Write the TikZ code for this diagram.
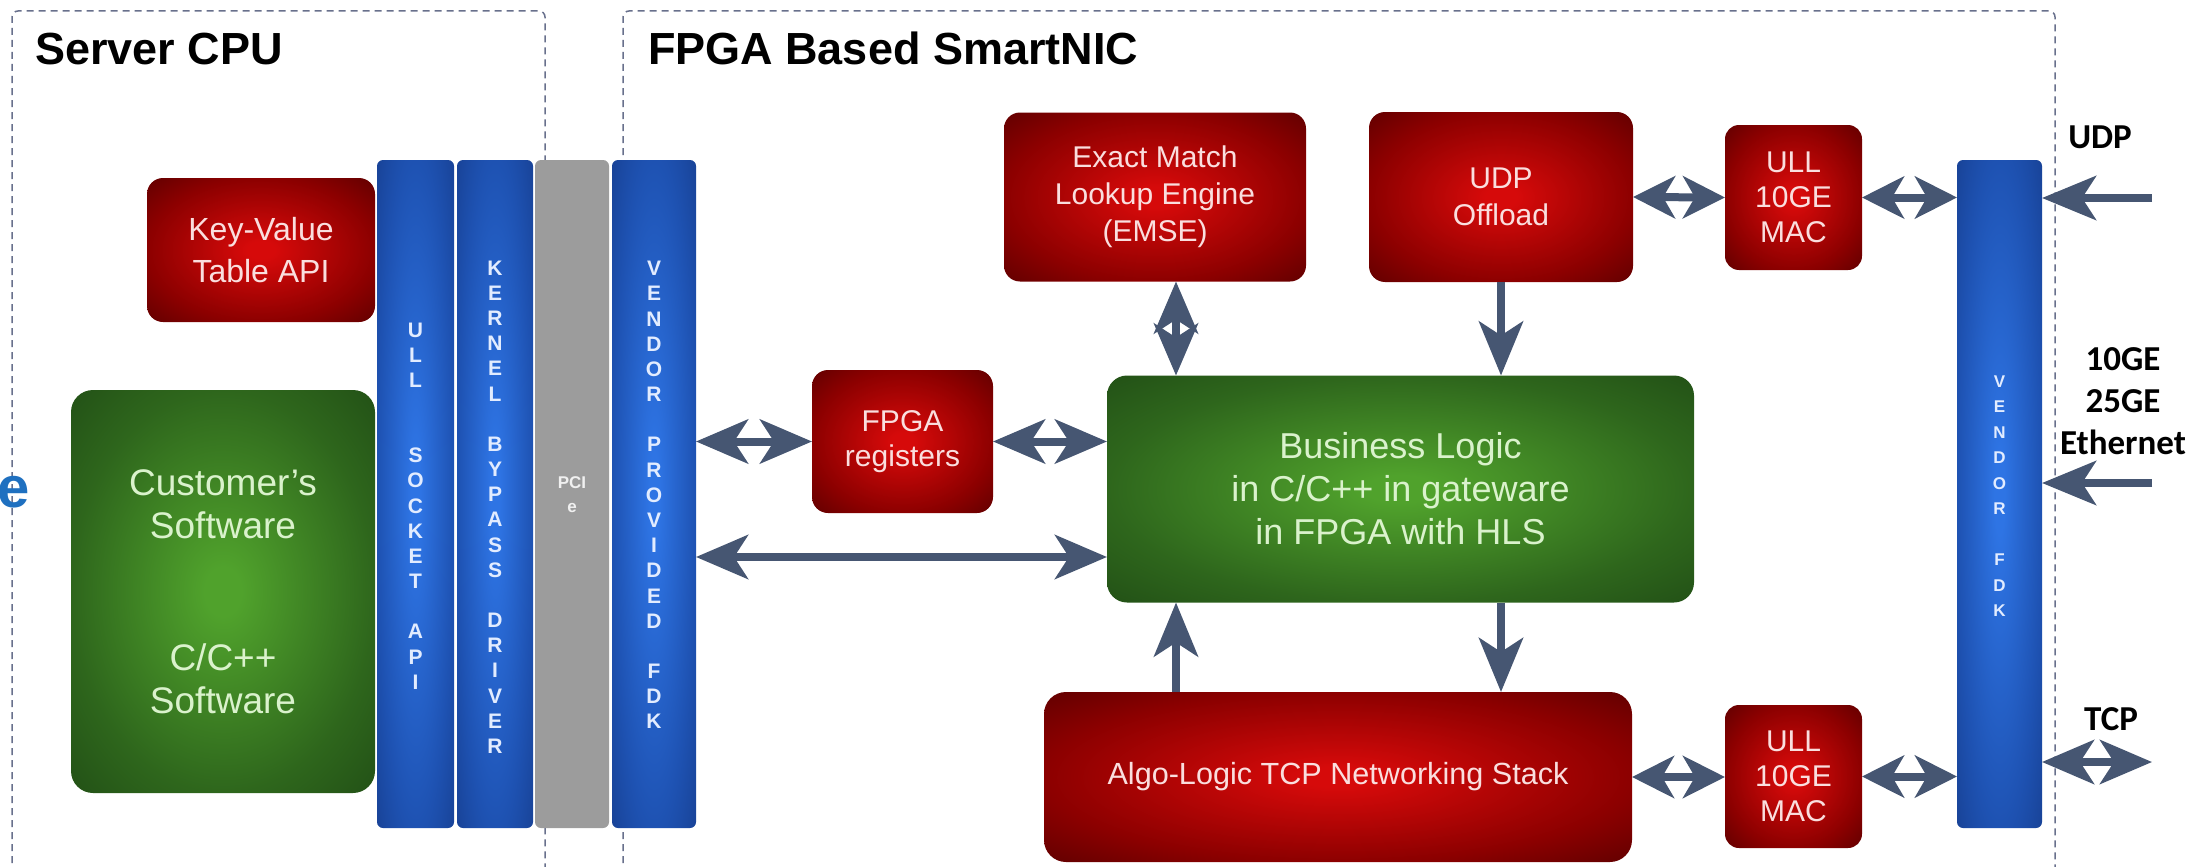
\documentclass[tikz,border=0pt]{standalone}
\usepackage{fontspec}
\setmainfont{Liberation Sans}
\newfontfamily\calib{Carlito}
\usetikzlibrary{arrows.meta,calc}
\definecolor{rin}{RGB}{214,10,10}
\definecolor{redge}{RGB}{140,0,0}
\definecolor{rcorner}{RGB}{96,0,0}
\definecolor{gin}{RGB}{80,162,44}
\definecolor{gedge}{RGB}{46,102,28}
\definecolor{gcorner}{RGB}{34,80,22}
\definecolor{bin}{RGB}{46,116,228}
\definecolor{bedge}{RGB}{30,82,178}
\definecolor{bcorner}{RGB}{24,66,150}
\definecolor{rtext}{RGB}{250,222,222}
\definecolor{gtext}{RGB}{218,242,204}
\definecolor{btext}{RGB}{226,236,255}
\definecolor{arrowc}{RGB}{70,86,114}
\definecolor{dashc}{RGB}{104,112,140}
\definecolor{pcigray}{RGB}{156,156,156}
\definecolor{ecol}{RGB}{31,112,192}
\pgfdeclareradialshading{redglow}{\pgfpoint{0bp}{0bp}}{color(0bp)=(rin); color(3bp)=(rin); color(25bp)=(redge); color(36bp)=(rcorner); color(50bp)=(rcorner)}
\pgfdeclareradialshading{greenglow}{\pgfpoint{0bp}{0bp}}{color(0bp)=(gin); color(3bp)=(gin); color(25bp)=(gedge); color(36bp)=(gcorner); color(50bp)=(gcorner)}
\pgfdeclareradialshading{blueglow}{\pgfpoint{0bp}{0bp}}{color(0bp)=(bin); color(3bp)=(bin); color(25bp)=(bedge); color(36bp)=(bcorner); color(50bp)=(bcorner)}
\begin{document}
\begin{tikzpicture}[x=1pt,y=-1pt,
  every node/.style={inner sep=0pt,outer sep=0pt},
  dashbox/.style={draw=dashc,line width=1.5pt,dash pattern=on 7pt off 5pt,rounded corners=6pt},
  redbox/.style={shading=redglow,rounded corners=16pt,text=rtext,align=center,font=\fontsize{30}{36}\selectfont},
  greenbox/.style={shading=greenglow,rounded corners=22pt,text=gtext,align=center},
  bluebar/.style={shading=blueglow,rounded corners=6pt,minimum width=#1,minimum height=668pt},
  bartext/.style={text=btext,align=center,font=\fontsize{21}{25.2}\selectfont\bfseries},
  title/.style={anchor=base west,font=\fontsize{45}{54}\selectfont\bfseries},
  netlabel/.style={align=center,font=\calib\fontsize{35}{42}\selectfont\bfseries},
  arr/.style={draw=arrowc,line width=8pt},
  dbl/.style={arr,arrows={Stealth[length=52pt,width=44pt,inset=14pt]-Stealth[length=52pt,width=44pt,inset=14pt]}},
  sdbl/.style={arr,arrows={Stealth[length=42pt,width=42pt,inset=12pt]-Stealth[length=42pt,width=42pt,inset=12pt]}},
  sgl/.style={arr,arrows={-Stealth[length=54pt,width=44pt,inset=14pt]}}
]
\useasboundingbox (0,0) rectangle (2196,867);

% dashed regions
\draw[dashbox] (12,875) -- (12,11) -- (545,11) -- (545,875);
\draw[dashbox] (623,875) -- (623,11) -- (2055,11) -- (2055,875);
\node[title] (cputitle) at (35,65) {Server CPU};
\node[title] (nictitle) at (648,65) {FPGA Based SmartNIC};
\node[font=\fontsize{58}{60}\selectfont\bfseries,text=ecol] (e) at (14,492) {e};

% server side
\node[redbox,minimum width=228pt,minimum height=144pt,font=\fontsize{32}{42}\selectfont] (kv) at (261,250) {Key-Value\\Table API};
\node[greenbox,minimum width=304pt,minimum height=403pt,font=\fontsize{37}{43}\selectfont] (cust) at (223,591.5) {Customer's\\Software\\[89pt]C/C++\\Software};

% bars
\node[bluebar=77pt] (ull) at (415.5,494) {};
\node[bluebar=76pt] (kern) at (495,494) {};
\node[fill=pcigray,rounded corners=6pt,minimum width=74pt,minimum height=668pt] (pcie) at (572,494) {};
\node[bluebar=84pt] (vend) at (654,494) {};
\node[bartext] (ulltxt) at (415.5,506) {U\\L\\L\\[50pt]S\\O\\C\\K\\E\\T\\[25pt]A\\P\\I};
\node[bartext] (kerntxt) at (495,507) {K\\E\\R\\N\\E\\L\\[25pt]B\\Y\\P\\A\\S\\S\\[25pt]D\\R\\I\\V\\E\\R};
\node[bartext] (vendtxt) at (654,495) {V\\E\\N\\D\\O\\R\\[25pt]P\\R\\O\\V\\I\\D\\E\\D\\[25pt]F\\D\\K};
\node[text=white!88!gray,align=center,font=\fontsize{17}{24}\selectfont\bfseries] (pcietxt) at (572,495) {PCI\\e};

% FPGA side
\node[redbox,minimum width=181pt,minimum height=143pt,font=\fontsize{30}{35}\selectfont] (regs) at (902.5,441.5) {FPGA\\registers};
\node[redbox,minimum width=302pt,minimum height=169pt,font=\fontsize{30}{37}\selectfont] (emse) at (1155,197) {Exact Match\\Lookup Engine\\(EMSE)};
\node[redbox,minimum width=264pt,minimum height=170pt,font=\fontsize{30}{37}\selectfont] (udp) at (1501,197) {UDP\\Offload};
\node[redbox,rounded corners=14pt,minimum width=137pt,minimum height=145pt,font=\fontsize{30}{35}\selectfont] (mac1) at (1793.5,197.5) {ULL\\10GE\\MAC};
\node[greenbox,rounded corners=20pt,minimum width=587pt,minimum height=227pt,font=\fontsize{36}{43}\selectfont] (biz) at (1400.5,489) {Business Logic\\in C/C++ in gateware\\in FPGA with HLS};
\node[redbox,rounded corners=22pt,minimum width=588pt,minimum height=170pt,font=\fontsize{30.6}{36}\selectfont] (tcp) at (1338,777) {Algo-Logic TCP Networking Stack};
\node[redbox,rounded corners=14pt,minimum width=137pt,minimum height=143pt,font=\fontsize{30}{35}\selectfont] (mac2) at (1793.5,776.5) {ULL\\10GE\\MAC};
\node[bluebar=85pt] (fdk) at (1999.5,494) {};
\node[bartext,font=\fontsize{17}{25.5}\selectfont\bfseries] (fdktxt) at (1999.5,496) {V\\E\\N\\D\\O\\R\\[25.5pt]F\\D\\K};

% network labels
\node[netlabel] (udplbl) at (2100,137) {UDP};
\node[netlabel] (ethlbl) at (2123,401) {10GE\\25GE\\Ethernet};
\node[netlabel] (tcplbl) at (2111,719) {TCP};

% connectors
\coordinate (la) at ([yshift=-68pt]biz.west);
\coordinate (ax) at ([xshift=21pt]emse.south);
\coordinate (udpin) at (2152,198);
\coordinate (ethin) at (2152,483);
\coordinate (tcpio) at (2152,762);
\draw[dbl] (vend.east |- regs.west) -- (regs.west);
\draw[dbl] (regs.east) -- (regs.east -| biz.west);
\draw[dbl] (vend.east |- la) -- (la);
\draw[dbl] (ax) -- (ax |- biz.north);
\draw[sgl] (udp.south) -- (udp.south |- biz.north);
\draw[sgl] (udp.south |- biz.south) -- (udp.south |- tcp.north);
\draw[sgl] (ax |- tcp.north) -- (ax |- biz.south);
\draw[sdbl] (udp.east) -- (mac1.west);
\draw[sdbl] (mac1.east) -- (mac1.east -| fdk.west);
\draw[sdbl] (tcp.east) -- (tcp.east -| mac2.west);
\draw[sdbl] (mac2.east) -- (mac2.east -| fdk.west);
\draw[sgl] (udpin) -- (udpin -| fdk.east);
\draw[sgl] (ethin) -- (ethin -| fdk.east);
\draw[dbl] (tcpio) -- (tcpio -| fdk.east);
\end{tikzpicture}
\end{document}
